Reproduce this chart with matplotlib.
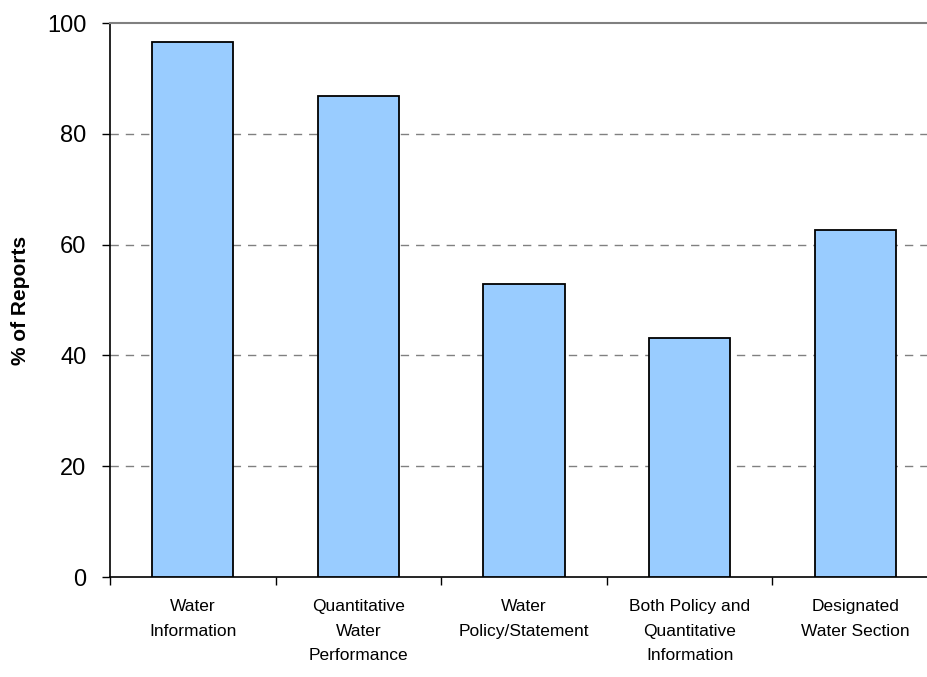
import numpy as np
import matplotlib.pyplot as plt

categories = [
    "Water\nInformation",
    "Quantitative\nWater\nPerformance",
    "Water\nPolicy/Statement",
    "Both Policy and\nQuantitative\nInformation",
    "Designated\nWater Section",
]
pct_reports = [96.6, 86.9, 52.9, 43.2, 62.7]
y_ticks = [0, 20, 40, 60, 80, 100]

plt.rcParams["font.family"] = ["Liberation Sans", "DejaVu Sans"]

fig = plt.figure(figsize=(9.27, 6.77), dpi=100)
# plot area runs slightly past the right edge of the canvas
ax = fig.add_axes([110 / 927, 100 / 677, 828 / 927, 554 / 677])

x = np.arange(len(categories))
ax.bar(x, pct_reports, width=0.49, color="#99ccff", edgecolor="black", linewidth=1.3, zorder=3)

ax.set_xlim(-0.5, len(categories) - 0.5)
ax.set_ylim(0, 100)
ax.set_yticks(y_ticks)
ax.set_yticklabels([str(v) for v in y_ticks], fontsize=17)

for v in y_ticks[1:-1]:
    ax.axhline(v, color="#808080", linestyle=(0, (6, 5)), linewidth=1, zorder=1)

ax.set_xticks(x)
ax.set_xticklabels(categories, fontsize=12.5, linespacing=1.8)
ax.set_xticks(np.arange(len(categories) + 1) - 0.5, minor=True)
ax.tick_params(axis="x", which="major", length=0, pad=16)
ax.tick_params(axis="x", which="minor", length=6, width=1)
ax.tick_params(axis="y", length=6, width=1, pad=11)

ax.spines["right"].set_visible(False)
ax.spines["top"].set_color("#808080")
ax.spines["top"].set_linewidth(1.5)
ax.spines["left"].set_linewidth(1.2)
ax.spines["bottom"].set_linewidth(1.2)

ax.set_ylabel("% of Reports", fontsize=15, fontweight="bold", labelpad=12)

fig.savefig("out.png", dpi=100)
